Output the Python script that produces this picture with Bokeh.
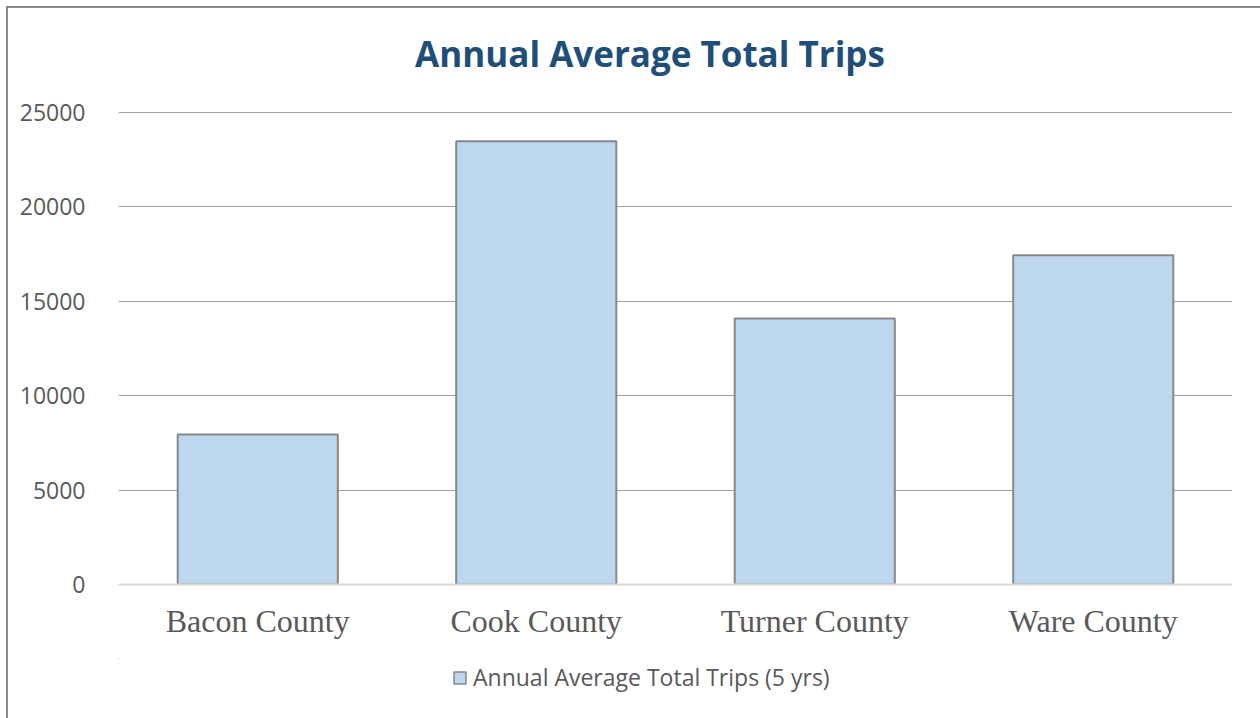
from bokeh.plotting import figure
from bokeh.models import Legend, LegendItem, FixedTicker, Range1d, Label
from bokeh.layouts import column
from bokeh.embed import file_html
from bokeh.resources import INLINE

counties = ["Bacon County", "Cook County", "Turner County", "Ware County"]
trips = [7950, 23480, 14090, 17440]
y_ticks = [0, 5000, 10000, 15000, 20000, 25000]
series_name = "Annual Average Total Trips (5 yrs)"
title_text = "Annual Average Total Trips"

BAR_FILL = "#BDD7EE"
BAR_LINE = "#888888"
BORDER_L, BORDER_R, FRAME_W = 110, 28, 1114
PAGE_X0, PAGE_Y0 = 8, 8
TITLE_H, TOP_B, FRAME_H, BOT_B, LEG_H = 83, 20, 473, 74, 60


def strip(height, page_top):
    # a text strip that shares the chart's left/right borders; ranges are page pixels
    f = figure(x_range=Range1d(PAGE_X0 + BORDER_L, PAGE_X0 + BORDER_L + FRAME_W),
               y_range=Range1d(page_top + height, page_top),
               frame_width=FRAME_W, frame_height=height,
               output_backend="svg", toolbar_location=None, title=None,
               x_axis_type=None, y_axis_type=None,
               min_border_left=BORDER_L, min_border_right=BORDER_R,
               min_border_top=0, min_border_bottom=0)
    f.grid.visible = False
    f.outline_line_color = None
    f.background_fill_color = "white"
    f.border_fill_color = "white"
    return f


# --- title strip
p_title = strip(TITLE_H, PAGE_Y0)
p_title.add_layout(Label(x=649.5, y=53, text=title_text, text_font="Open Sans",
                         text_font_style="bold", text_font_size="35px", text_color="#1F4E79",
                         text_align="center", text_baseline="alphabetic"))

# --- main chart
p = figure(x_range=counties, y_range=Range1d(0, 25050), frame_width=FRAME_W, frame_height=FRAME_H,
           output_backend="svg", toolbar_location=None, title=None,
           min_border_left=BORDER_L, min_border_right=BORDER_R,
           min_border_top=TOP_B, min_border_bottom=BOT_B)
p.outline_line_color = None
p.background_fill_color = "white"
p.border_fill_color = "white"

r = p.vbar(x=counties, top=trips, width=0.575, fill_color=BAR_FILL,
           line_color=BAR_LINE, line_width=2)

p.xgrid.grid_line_color = None
p.ygrid.ticker = FixedTicker(ticks=y_ticks)
p.ygrid.grid_line_color = "#A0A0A0"
p.ygrid.grid_line_width = 1

p.yaxis.ticker = FixedTicker(ticks=y_ticks)
p.yaxis.axis_line_color = None
p.yaxis.major_tick_line_color = None
p.yaxis.minor_tick_line_color = None
p.yaxis.major_label_standoff = 27
p.yaxis.major_label_text_font = "Open Sans"
p.yaxis.major_label_text_font_size = "23px"
p.yaxis.major_label_text_color = "#595959"

p.xaxis.axis_line_color = "#D9D9D9"
p.xaxis.axis_line_width = 2
p.xaxis.major_tick_line_color = None
p.xaxis.minor_tick_line_color = None
p.xaxis.major_label_standoff = 12
p.xaxis.major_label_text_font = "Liberation Serif"
p.xaxis.major_label_text_font_size = "32px"
p.xaxis.major_label_text_color = "#595959"

# --- legend strip (proxy bar of zero width, only used for the legend swatch)
p_leg = strip(LEG_H, PAGE_Y0 + TITLE_H + TOP_B + FRAME_H + BOT_B)
r_leg = p_leg.vbar(x=[0], top=[0], bottom=[0], width=0, fill_color=BAR_FILL,
                   line_color=BAR_LINE, line_width=1.5)
legend = Legend(items=[LegendItem(label=series_name, renderers=[r_leg])],
                location=(334, 25), orientation="horizontal",
                glyph_width=15, glyph_height=15, label_standoff=6,
                label_text_font="Open Sans", label_text_font_size="23px",
                label_text_color="#595959", border_line_color=None,
                background_fill_alpha=0, padding=0, margin=0, spacing=0)
p_leg.add_layout(legend, "center")

layout = column(p_title, p, p_leg, spacing=0,
                styles={"margin-left": "6px", "margin-top": "6px",
                        "border-left": "2px solid #888888", "border-top": "2px solid #888888"})

open("out.html", "w").write(file_html(layout, INLINE))
